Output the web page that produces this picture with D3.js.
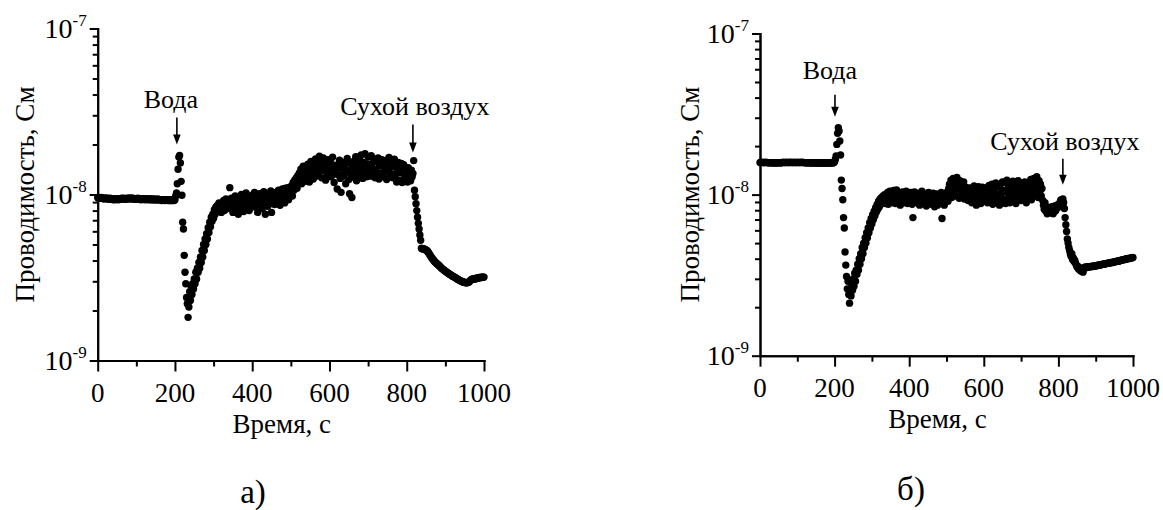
<!DOCTYPE html>
<html>
<head>
<meta charset="utf-8">
<script src="https://cdn.jsdelivr.net/npm/d3@7"></script>
<style>
  html, body { margin: 0; padding: 0; background: #fff; }
</style>
</head>
<body>
<svg id="fig" width="1163" height="510"></svg>
<script>
// Sampling interval of the conductance recorder, s
const STEP_S = 2;

// Sample (а): conductance in nS, one value every STEP_S seconds, 0…1000 s
const conductanceA = [
  9.6, 9.5, 9.6, 9.5, 9.5, 9.6, 9.5, 9.5, 9.4, 9.5,
  9.5, 9.5, 9.4, 9.5, 9.4, 9.4, 9.5, 9.4, 9.4, 9.4,
  9.3, 9.4, 9.4, 9.3, 9.4, 9.4, 9.4, 9.3, 9.4, 9.4,
  9.4, 9.5, 9.4, 9.4, 9.5, 9.4, 9.4, 9.4, 9.5, 9.4,
  9.5, 9.5, 9.4, 9.5, 9.5, 9.4, 9.5, 9.4, 9.4, 9.4,
  9.4, 9.4, 9.5, 9.4, 9.4, 9.4, 9.3, 9.4, 9.4, 9.4,
  9.4, 9.3, 9.4, 9.4, 9.4, 9.3, 9.4, 9.4, 9.3, 9.4,
  9.3, 9.4, 9.3, 9.3, 9.4, 9.3, 9.3, 9.3, 9.4, 9.3,
  9.3, 9.3, 9.3, 9.2, 9.3, 9.3, 9.3, 9.2, 9.3, 9.3,
  9.3, 9.2, 9.3, 9.2, 9.2, 9.3, 9.2, 9.2, 9.3, 9.2,
  9.3, 9.8, 10.2, 11.6, 14.2, 16.8, 17.2, 15.5, 12.0, 9.9,
  6.8, 6.2, 4.3, 3.4, 2.9, 2.4, 2.2, 1.82, 2.1, 2.6,
  2.3, 2.8, 2.5, 2.9, 2.7, 3.1, 2.9, 3.4, 3.1, 3.6,
  3.4, 3.9, 3.6, 4.2, 3.9, 4.6, 4.2, 5.0, 4.6, 5.4,
  5.0, 5.8, 5.4, 6.3, 5.9, 6.8, 6.4, 7.3, 6.9, 7.6,
  7.2, 8.1, 7.6, 8.4, 7.9, 8.6, 8.0, 8.9, 8.2, 8.7,
  7.8, 8.8, 8.3, 9.2, 8.0, 8.7, 9.4, 8.2, 8.9, 8.4,
  9.1, 11.0, 8.3, 9.5, 8.6, 7.8, 9.2, 8.5, 9.8, 8.1,
  8.8, 9.6, 7.6, 8.9, 9.3, 8.2, 10.0, 8.6, 9.0, 7.9,
  9.4, 8.7, 10.2, 8.3, 9.1, 9.7, 8.0, 8.8, 9.5, 8.4,
  9.9, 8.6, 9.2, 10.3, 8.4, 9.0, 9.6, 7.8, 9.3, 8.9,
  10.1, 8.7, 9.4, 8.2, 9.8, 10.4, 8.9, 7.6, 9.2, 9.7,
  8.5, 10.0, 9.3, 8.8, 10.5, 7.8, 9.6, 9.0, 10.2, 8.7,
  9.5, 10.3, 8.9, 9.8, 10.6, 9.1, 8.6, 10.1, 9.4, 10.8,
  9.7, 10.2, 8.9, 10.9, 9.6, 10.4, 11.0, 9.3, 10.6, 9.9,
  10.5, 11.3, 9.8, 11.8, 10.6, 12.2, 11.0, 12.6, 10.9, 13.0,
  11.8, 13.5, 12.4, 14.2, 11.6, 13.1, 14.8, 12.5, 13.8, 12.0,
  14.5, 12.8, 15.2, 13.4, 11.9, 14.1, 15.8, 13.0, 14.6, 12.4,
  15.3, 13.6, 16.4, 12.9, 14.8, 13.3, 15.7, 17.0, 13.8, 14.4,
  12.6, 15.1, 16.6, 13.9, 14.3, 12.2, 15.5, 13.1, 16.2, 14.7,
  13.5, 15.9, 12.8, 14.6, 16.8, 13.2, 11.8, 15.0, 13.7, 14.2,
  10.8, 14.9, 13.1, 16.1, 12.5, 10.3, 14.4, 15.6, 12.9, 13.8,
  15.2, 11.6, 13.6, 16.5, 14.0, 12.3, 10.1, 15.4, 13.3, 9.6,
  14.7, 12.7, 15.9, 13.5, 16.9, 12.1, 14.3, 15.1, 13.0, 16.3,
  13.4, 17.3, 14.8, 12.5, 15.6, 13.9, 17.6, 14.1, 12.8, 15.3,
  16.8, 13.6, 15.0, 12.9, 17.1, 14.5, 13.2, 15.7, 16.4, 12.6,
  14.2, 15.9, 13.1, 16.6, 12.4, 14.9, 15.4, 13.5, 16.2, 12.8,
  15.5, 13.7, 14.4, 16.0, 12.3, 15.1, 13.9, 16.7, 12.9, 14.6,
  13.3, 15.8, 12.6, 14.7, 16.3, 13.0, 15.2, 11.9, 14.0, 15.6,
  12.2, 14.8, 13.5, 15.4, 11.8, 13.9, 15.1, 12.5, 14.3, 12.0,
  13.6, 11.9, 14.5, 12.7, 13.2, 12.1, 14.0, 12.8, 13.4, 16.0,
  10.6, 9.7, 8.8, 8.0, 7.3, 6.7, 6.2, 5.7, 5.3, 4.75,
  4.72, 4.70, 4.70, 4.68, 4.66, 4.62, 4.60, 4.55, 4.48, 4.40,
  4.32, 4.25, 4.18, 4.12, 4.06, 4.00, 3.95, 3.91, 3.87, 3.83,
  3.80, 3.76, 3.72, 3.68, 3.64, 3.60, 3.57, 3.54, 3.51, 3.48,
  3.45, 3.42, 3.40, 3.37, 3.35, 3.32, 3.30, 3.28, 3.25, 3.23,
  3.21, 3.19, 3.17, 3.15, 3.13, 3.11, 3.09, 3.07, 3.05, 3.03,
  3.01, 3.00, 2.98, 2.97, 2.96, 2.95, 2.95, 2.94, 2.94, 2.95,
  2.96, 2.98, 3.02, 3.06, 3.08, 3.10, 3.09, 3.11, 3.12, 3.10,
  3.12, 3.14, 3.13, 3.15, 3.16, 3.15, 3.17, 3.16, 3.18, 3.17,
  3.18
];

// Sample (б): conductance in nS, one value every STEP_S seconds, 0…1000 s
const conductanceB = [
  15.8, 15.9, 15.8, 15.8, 15.9, 15.8, 15.8, 15.8, 15.9, 15.8,
  15.8, 15.8, 15.7, 15.8, 15.8, 15.8, 15.7, 15.8, 15.8, 15.7,
  15.8, 15.7, 15.8, 15.8, 15.7, 15.8, 15.8, 15.8, 15.7, 15.8,
  15.8, 15.9, 15.8, 15.8, 15.8, 15.9, 15.8, 15.8, 15.8, 15.9,
  15.8, 15.8, 15.9, 15.8, 15.8, 15.8, 15.9, 15.8, 15.8, 15.8,
  15.9, 15.8, 15.8, 15.8, 15.9, 15.8, 15.8, 15.9, 15.8, 15.8,
  15.8, 15.8, 15.7, 15.8, 15.8, 15.8, 15.7, 15.8, 15.8, 15.7,
  15.7, 15.8, 15.8, 15.7, 15.8, 15.7, 15.8, 15.7, 15.7, 15.8,
  15.7, 15.7, 15.8, 15.7, 15.7, 15.8, 15.7, 15.7, 15.7, 15.8,
  15.7, 15.8, 15.7, 15.7, 15.8, 15.7, 15.8, 15.8, 15.7, 15.8,
  16.0, 16.6, 17.4, 20.5, 24.0, 26.0, 24.8, 21.5, 17.6, 12.3,
  10.9, 9.3, 7.2, 6.2, 4.4, 3.65, 3.1, 2.6, 2.9, 2.4,
  2.12, 2.6, 2.35, 2.8, 2.55, 3.0, 2.7, 3.25, 2.9, 3.4,
  3.2, 3.7, 3.4, 4.0, 3.7, 4.3, 4.0, 4.7, 4.3, 5.0,
  4.7, 5.4, 5.0, 5.8, 5.4, 6.2, 5.8, 6.7, 6.2, 7.1,
  6.6, 7.5, 7.0, 7.9, 7.4, 8.3, 7.8, 8.7, 8.1, 9.1,
  8.4, 9.4, 8.7, 9.6, 8.9, 9.8, 9.1, 10.0, 8.8, 9.7,
  9.2, 10.3, 8.7, 9.9, 10.5, 9.0, 9.6, 10.2, 8.9, 10.6,
  9.4, 10.1, 8.8, 10.7, 9.5, 9.0, 10.3, 9.7, 8.6, 10.0,
  9.3, 10.4, 9.8, 8.9, 10.1, 9.6, 10.5, 9.2, 8.8, 10.2,
  9.7, 9.0, 10.3, 9.5, 8.7, 7.2, 9.9, 10.4, 9.1, 9.6,
  10.2, 8.9, 9.5, 10.0, 8.6, 9.8, 9.3, 10.5, 8.8, 9.4,
  9.0, 10.1, 9.6, 8.5, 9.9, 9.2, 10.3, 8.8, 9.5, 10.0,
  8.7, 9.4, 10.2, 9.0, 8.4, 9.7, 9.3, 10.1, 8.6, 9.2,
  9.8, 8.9, 9.4, 10.3, 7.1, 9.0, 9.6, 8.6, 10.0, 9.3,
  9.7, 10.4, 9.1, 10.9, 11.6, 10.2, 12.3, 9.6, 11.2, 12.6,
  10.5, 12.1, 11.4, 9.8, 12.8, 10.9, 11.7, 9.5, 12.2, 10.6,
  11.5, 9.9, 10.8, 12.0, 9.4, 10.3, 11.1, 9.7, 10.6, 9.2,
  10.1, 11.0, 9.6, 10.4, 8.9, 10.8, 9.8, 11.3, 9.5, 10.2,
  8.6, 10.7, 9.9, 11.2, 9.3, 10.5, 8.8, 10.0, 11.1, 9.6,
  10.4, 9.1, 11.0, 9.7, 10.6, 8.9, 10.2, 11.4, 9.4, 10.8,
  9.8, 11.6, 8.7, 10.3, 10.9, 9.5, 11.8, 10.1, 9.0, 11.2,
  10.0, 8.6, 11.5, 9.7, 10.7, 12.0, 9.3, 10.4, 11.9, 8.8,
  10.6, 12.3, 9.5, 11.1, 10.2, 8.9, 11.7, 10.5, 9.9, 12.1,
  9.4, 11.0, 10.3, 8.8, 11.6, 10.0, 12.2, 9.6, 10.8, 11.4,
  9.2, 10.9, 11.8, 10.1, 9.5, 12.0, 10.6, 8.9, 11.3, 10.2,
  11.7, 9.8, 10.5, 12.4, 9.3, 11.1, 10.7, 12.6, 9.9, 11.5,
  10.3, 12.9, 11.0, 9.6, 12.2, 10.4, 11.6, 9.8, 10.9, 9.2,
  8.6, 8.1, 8.9, 7.9, 8.4, 7.6, 8.2, 8.0, 7.7, 8.3,
  7.8, 8.4, 8.0, 7.6, 8.2, 8.5, 7.9, 8.1, 8.6, 8.3,
  8.7, 8.5, 8.9, 9.2, 9.3, 9.1, 9.4, 8.9, 8.2, 7.2,
  6.5, 5.9, 5.3, 5.0, 4.7, 4.5, 4.3, 4.15, 4.3, 3.95,
  4.05, 3.85, 3.9, 3.75, 3.65, 3.55, 3.6, 3.45, 3.5, 3.4,
  3.35, 3.45, 3.5, 3.3, 3.45, 3.5, 3.55, 3.52, 3.55, 3.56,
  3.55, 3.56, 3.57, 3.56, 3.58, 3.59, 3.58, 3.60, 3.61, 3.60,
  3.62, 3.63, 3.62, 3.64, 3.65, 3.66, 3.65, 3.67, 3.68, 3.69,
  3.70, 3.71, 3.70, 3.72, 3.73, 3.74, 3.75, 3.74, 3.76, 3.77,
  3.78, 3.79, 3.78, 3.80, 3.82, 3.81, 3.83, 3.84, 3.85, 3.86,
  3.87, 3.86, 3.88, 3.90, 3.91, 3.92, 3.93, 3.95, 3.94, 3.96,
  3.98, 3.99, 4.00, 4.01, 4.00, 4.02, 4.03, 4.04, 4.05, 4.06,
  4.07
];

// Axis ticks
const timeDomain = [0, 1000];
const timeMajorTicks = [0, 200, 400, 600, 800, 1000];
const timeMinorTicks = [100, 300, 500, 700, 900];
const condDomain = [1, 100];                 // nS
const condDecades = [1, 10, 100];            // nS
const condDecadeExponents = ["-9", "-8", "-7"];
const condMinorTicks = [2, 3, 4, 5, 6, 7, 8, 9, 20, 30, 40, 50, 60, 70, 80, 90];

// Texts
const xTitle = "Время, с";
const yTitle = "Проводимость, См";
const panelLetters = ["а)", "б)"];
const eventNames = ["Вода", "Сухой воздух"];

// Event markers: time of the event and conductance at the arrow tip (nS)
const eventsA = [{ t: 205, tip: 20.0 }, { t: 816, tip: 17.9 }];
const eventsB = [{ t: 201, tip: 30.4 }, { t: 812, tip: 11.5 }];

const FONT = "'Liberation Serif', 'Times New Roman', serif";

const toSeries = vals => vals.map((v, i) => ({ t: i * STEP_S, g: v }));

const panels = [
  {
    data: toSeries(conductanceA), events: eventsA, letter: panelLetters[0],
    xr: [97.7, 484], yr: [360.5, 28.5],
    yTitleX: 25, xTitleDx: -9, xTitleY: 433,
    letterPos: [253, 503],
    eventLayout: [{ len: 27, lx: -6, ly: -10 }, { len: 28, lx: 2, ly: -10 }]
  },
  {
    data: toSeries(conductanceB), events: eventsB, letter: panelLetters[1],
    xr: [760, 1133], yr: [355.7, 33.5],
    yTitleX: 690, xTitleDx: -9, xTitleY: 428,
    letterPos: [911, 500],
    eventLayout: [{ len: 22, lx: -5, ly: -16 }, { len: 26, lx: 2, ly: -9 }]
  }
];

const svg = d3.select("#fig");
svg.append("rect").attr("width", 1163).attr("height", 510).attr("fill", "#fff");

const addText = (parent, size) =>
  parent.append("text").style("font-family", FONT).attr("font-size", size).attr("fill", "#000");

panels.forEach(p => {
  const x = d3.scaleLinear().domain(timeDomain).range(p.xr);
  const y = d3.scaleLog().domain(condDomain).range(p.yr);
  const g = svg.append("g");

  // data points
  g.append("g").selectAll("circle")
    .data(p.data)
    .join("circle")
    .attr("cx", d => x(d.t))
    .attr("cy", d => y(d.g))
    .attr("r", 3.7)
    .attr("fill", "#000");

  const styleAxis = sel => {
    sel.selectAll("path, line").attr("stroke", "#000").attr("stroke-width", 2);
    sel.selectAll("text").remove();
  };

  // y axis: decades and minor ticks
  g.append("g").attr("transform", `translate(${p.xr[0]},0)`)
    .call(d3.axisLeft(y).tickValues(condMinorTicks).tickSize(5).tickSizeOuter(0).tickFormat(""))
    .call(styleAxis);
  g.append("g").attr("transform", `translate(${p.xr[0]},0)`)
    .call(d3.axisLeft(y).tickValues(condDecades).tickSize(8).tickSizeOuter(0).tickFormat(""))
    .call(styleAxis);

  // x axis
  g.append("g").attr("transform", `translate(0,${p.yr[0]})`)
    .call(d3.axisBottom(x).tickValues(timeMinorTicks).tickSize(6).tickSizeOuter(0).tickFormat(""))
    .call(styleAxis);
  g.append("g").attr("transform", `translate(0,${p.yr[0]})`)
    .call(d3.axisBottom(x).tickValues(timeMajorTicks).tickSize(11).tickSizeOuter(0).tickFormat(""))
    .call(styleAxis);
  g.selectAll(".domain").attr("stroke-linecap", "square");

  // y tick labels: 10^n
  condDecades.forEach((v, i) => {
    const t = addText(g, 28)
      .attr("x", p.xr[0] - 11)
      .attr("y", y(v) + 9)
      .attr("text-anchor", "end");
    t.append("tspan").text("10");
    t.append("tspan").attr("font-size", 17).attr("dy", -12).text(condDecadeExponents[i]);
  });

  // x tick labels
  timeMajorTicks.forEach(v => {
    addText(g, 27)
      .attr("x", x(v))
      .attr("y", p.yr[0] + 41)
      .attr("text-anchor", "middle")
      .text(v);
  });

  // axis titles
  addText(g, 27)
    .attr("x", (p.xr[0] + p.xr[1]) / 2 + p.xTitleDx)
    .attr("y", p.xTitleY)
    .attr("text-anchor", "middle")
    .text(xTitle);
  addText(g, 27)
    .attr("transform", `translate(${p.yTitleX},${(p.yr[0] + p.yr[1]) / 2}) rotate(-90)`)
    .attr("text-anchor", "middle")
    .attr("dy", "0.35em")
    .text(yTitle);

  // event arrows with captions
  p.events.forEach((e, i) => {
    const L = p.eventLayout[i];
    const ax = x(e.t), tipY = y(e.tip), topY = tipY - L.len;
    g.append("line")
      .attr("x1", ax).attr("x2", ax)
      .attr("y1", topY).attr("y2", tipY - 6)
      .attr("stroke", "#000").attr("stroke-width", 1.6);
    g.append("path")
      .attr("d", `M${ax - 3.8},${tipY - 10} L${ax + 3.8},${tipY - 10} L${ax},${tipY} Z`)
      .attr("fill", "#000");
    addText(g, 26)
      .attr("x", ax + L.lx)
      .attr("y", topY + L.ly)
      .attr("text-anchor", "middle")
      .text(eventNames[i]);
  });

  // panel letter
  addText(g, 33)
    .attr("x", p.letterPos[0])
    .attr("y", p.letterPos[1])
    .attr("text-anchor", "middle")
    .text(p.letter);
});
</script>
</body>
</html>
